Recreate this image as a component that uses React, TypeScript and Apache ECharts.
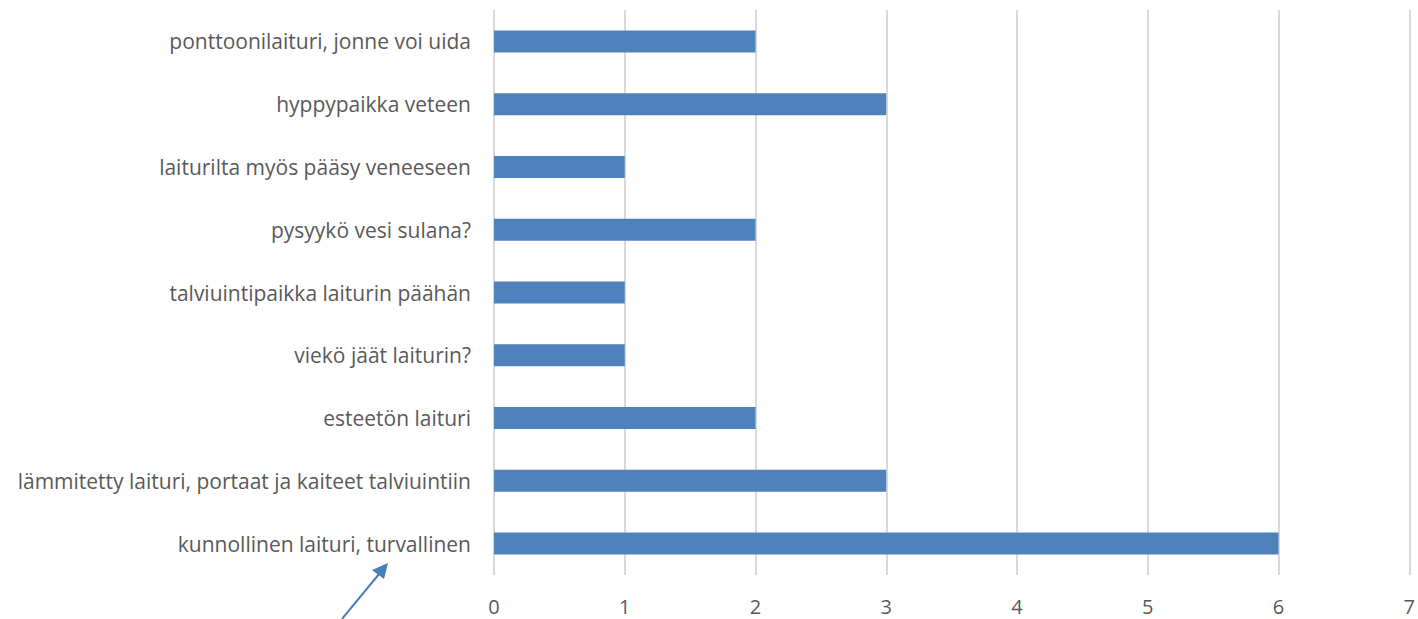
import React, { useEffect, useRef } from "react";
import * as echarts from "echarts";

const categories = [
  "ponttoonilaituri, jonne voi uida",
  "hyppypaikka veteen",
  "laiturilta myös pääsy veneeseen",
  "pysyykö vesi sulana?",
  "talviuintipaikka laiturin päähän",
  "viekö jäät laiturin?",
  "esteetön laituri",
  "lämmitetty laituri, portaat ja kaiteet talviuintiin",
  "kunnollinen laituri, turvallinen",
];
const values = [2, 3, 1, 2, 1, 1, 2, 3, 6];

export default function App() {
  const ref = useRef<HTMLDivElement>(null);
  useEffect(() => {
    if (!ref.current) return;
    const chart = echarts.init(ref.current, undefined, { renderer: "svg" });
    chart.setOption({
      animation: false,
      grid: { left: 494, right: 8, top: 10, bottom: 44, containLabel: false },
      xAxis: {
        type: "value",
        min: 0,
        max: 7,
        interval: 1,
        axisLine: { show: false },
        axisTick: { show: false },
        splitLine: { show: true, lineStyle: { color: "#d9d9d9", width: 2 } },
        axisLabel: {
          color: "#595959",
          fontFamily: "Open Sans",
          fontSize: 20,
          margin: 21,
        },
      },
      yAxis: {
        type: "category",
        data: categories,
        inverse: true,
        axisLine: { show: false },
        axisTick: { show: false },
        axisLabel: {
          color: "#595959",
          fontFamily: "Open Sans",
          fontSize: 21,
          margin: 23,
        },
      },
      series: [
        {
          type: "bar",
          data: values,
          barWidth: 22,
          itemStyle: { color: "#4f81bd" },
        },
      ],
      graphic: [
        {
          type: "line",
          shape: { x1: 342, y1: 619, x2: 384, y2: 568 },
          style: { stroke: "#4a7ebb", lineWidth: 2 },
        },
        {
          type: "polygon",
          shape: { points: [[388, 563], [372, 570], [384, 579]] },
          style: { fill: "#4a7ebb" },
        },
      ],
    });
    return () => chart.dispose();
  }, []);
  return (
    <div
      ref={ref}
      style={{ position: "fixed", left: 0, top: 0, width: 1418, height: 619, background: "#fff" }}
    />
  );
}
